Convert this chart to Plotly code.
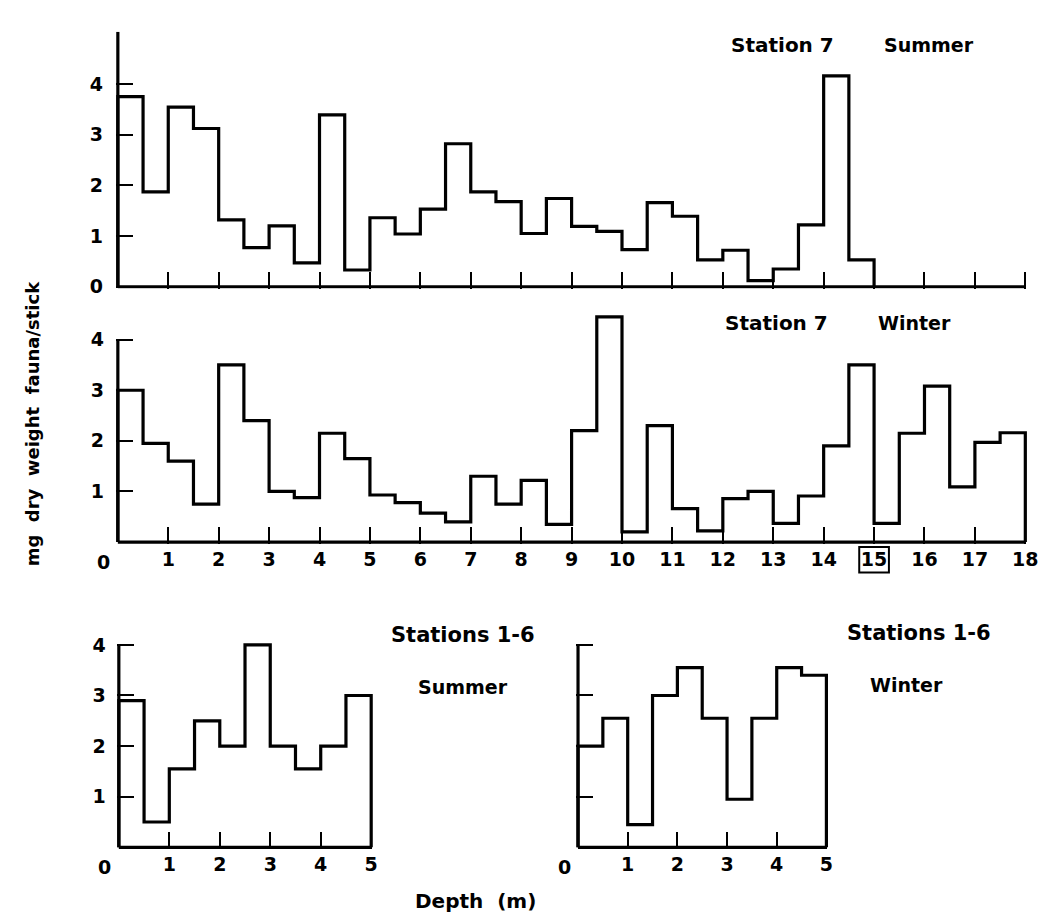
import plotly.graph_objects as go

W, H = 1059, 914
BIN = 0.5  # bin width in metres

# ---------------- data ----------------
st7_summer = [3.75, 1.87, 3.54, 3.12, 1.32, 0.77, 1.20, 0.47, 3.39, 0.33,
              1.36, 1.04, 1.53, 2.82, 1.87, 1.68, 1.05, 1.74, 1.19, 1.09,
              0.73, 1.66, 1.39, 0.53, 0.72, 0.12, 0.35, 1.22, 4.16, 0.53]
st7_winter = [3.00, 1.95, 1.60, 0.75, 3.50, 2.40, 1.00, 0.88, 2.15, 1.65,
              0.93, 0.78, 0.57, 0.40, 1.30, 0.75, 1.22, 0.35, 2.20, 4.45,
              0.20, 2.30, 0.66, 0.22, 0.86, 1.00, 0.37, 0.91, 1.90, 3.50,
              0.37, 2.15, 3.08, 1.09, 1.97, 2.16]
st16_summer = [2.90, 0.50, 1.55, 2.50, 2.00, 4.00, 2.00, 1.55, 2.00, 3.00]
st16_winter = [2.00, 2.55, 0.45, 3.00, 3.55, 2.55, 0.95, 2.55, 3.55, 3.40]

st7_xticks = list(range(1, 19))
st16_xticks = [1, 2, 3, 4, 5]
y_ticks = [1, 2, 3, 4]
boxed_tick = 15

# ---------------- geometry (pixels) ----------------
PAD = 2.0
panels = {
    # name: (x0px, px_per_m, xmax, y0px, px_per_unit, ytop, ylabel_standoff)
    "top": (111, (1028 - 111) / 18, 18, 278, 51.5, 5.03, 12),
    "mid": (111, (1028 - 111) / 18, 18, 537.3, 51.4, 4.6, 11),
    "bl": (112, 51.0, 5, 847.3, 51.4, 4.12, 10),
    "br": (576, 50.2, 5, 847.3, 51.4, 4.12, 10),
}


def px2paper_x(px):
    return px / W


def px2paper_y(py):
    return 1 - py / H


def outline(vals):
    edges = [i * BIN for i in range(len(vals) + 1)]
    xs = [0] + edges[:-1] + [edges[-1], edges[-1]]
    ys = [0] + list(vals) + [vals[-1], 0]
    return xs, ys


FONT = "DejaVu Sans"
TICKFONT = dict(family=FONT, size=19, color="black", weight="bold")
fig = go.Figure()
layout_axes = {}
shapes = []
annotations = []

series = [("top", st7_summer), ("mid", st7_winter), ("bl", st16_summer), ("br", st16_winter)]
for i, (name, vals) in enumerate(series, start=1):
    x0px, ppm, xmax, y0px, ppu, ytop, ystand = panels[name]
    sfx = "" if i == 1 else str(i)
    xs, ys = outline(vals)
    fig.add_trace(go.Scatter(x=xs, y=ys, mode="lines", line=dict(color="black", width=3.2, shape="hv"),
                             xaxis="x" + sfx, yaxis="y" + sfx, showlegend=False, hoverinfo="skip"))
    xr = [-PAD / ppm, xmax + PAD / ppm]
    yr = [-PAD / ppu, ytop]
    dom_x = [px2paper_x(x0px - PAD), px2paper_x(x0px + xmax * ppm + PAD)]
    dom_y = [px2paper_y(y0px + PAD), px2paper_y(y0px - ytop * ppu)]

    xticks = st7_xticks if xmax == 18 else st16_xticks
    show_xlab = name != "top"
    layout_axes["xaxis" + sfx] = dict(
        domain=dom_x, range=xr, anchor="y" + sfx, showgrid=False, zeroline=False, showline=False,
        ticks="inside", ticklen=17, tickwidth=2, tickcolor="black",
        tickvals=xticks, ticktext=[str(v) for v in xticks], showticklabels=show_xlab,
        tickfont=TICKFONT, ticklabelstandoff=2,
    )
    if name == "top":
        yv = [0] + y_ticks
        show_ylab = True
    else:
        yv = y_ticks
        show_ylab = name != "br"
    layout_axes["yaxis" + sfx] = dict(
        domain=dom_y, range=yr, anchor="x" + sfx, showgrid=False, zeroline=False, showline=False,
        ticks="inside", ticklen=17, tickwidth=2, tickcolor="black",
        tickvals=yv, ticktext=[str(v) for v in yv], showticklabels=show_ylab,
        tickfont=TICKFONT, ticklabelstandoff=ystand,
    )
    # axis lines
    ytop_line = ytop if name == "top" else y_ticks[-1]
    shapes.append(dict(type="line", xref="x" + sfx, yref="y" + sfx, x0=0, x1=xmax, y0=0, y1=0,
                       line=dict(color="black", width=3.2), layer="above"))
    shapes.append(dict(type="line", xref="x" + sfx, yref="y" + sfx, x0=0, x1=0, y0=0, y1=ytop_line,
                       line=dict(color="black", width=3.2), layer="above"))
    # "0" label on x axis (offset left of origin)
    if name != "top":
        annotations.append(dict(x=0, y=0, xref="x" + sfx, yref="y" + sfx, text="0", showarrow=False,
                                xanchor="center", yanchor="top", xshift=-14, yshift=-7,
                                font=TICKFONT))
    if name == "mid":
        # box drawn around the tick label of 15 (paper coords, computed from geometry)
        bx = x0px + boxed_tick * ppm
        shapes.append(dict(type="rect", xref="paper", yref="paper",
                           x0=px2paper_x(bx - 15), x1=px2paper_x(bx + 15),
                           y0=px2paper_y(y0px + 31), y1=px2paper_y(y0px + 5),
                           line=dict(color="black", width=2)))


def label(text, xpx, ypx, size=20, angle=0):
    annotations.append(dict(x=px2paper_x(xpx), y=px2paper_y(ypx), xref="paper", yref="paper",
                            text=text, showarrow=False, xanchor="center", yanchor="middle",
                            textangle=angle,
                            font=dict(family=FONT, size=size, color="black", weight="bold")))


label("Station 7", 783, 32, 20)
label("Summer", 931, 32, 19)
label("Station 7", 777, 315, 20)
label("Winter", 916, 315, 19)
label("Stations 1-6", 460, 632, 21)
label("Summer", 460, 684, 19)
label("Stations 1-6", 921, 630, 21)
label("Winter", 908, 682, 19)
label("Depth  (m)", 472, 902, 20)
label("mg  dry  weight  fauna/stick", 25, 417, size=18, angle=-90)

fig.update_layout(
    width=W, height=H, margin=dict(l=0, r=0, t=0, b=0),
    paper_bgcolor="white", plot_bgcolor="white",
    shapes=shapes, annotations=annotations, showlegend=False,
    **layout_axes,
)
fig.write_html("out.html")
